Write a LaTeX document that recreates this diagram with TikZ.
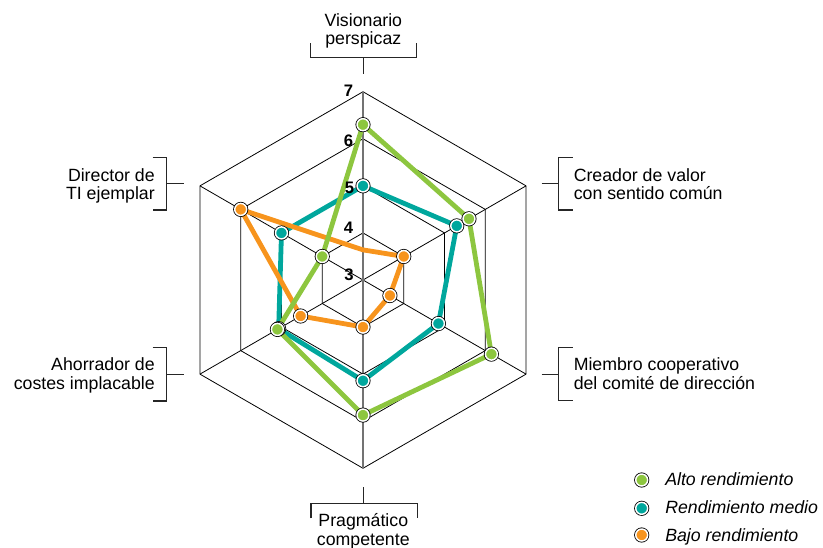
\documentclass[tikz,border=0pt]{standalone}
\usepackage{fontspec}
\setmainfont{Liberation Sans}
\usetikzlibrary{calc}
\definecolor{cgreen}{HTML}{8DC63F}
\definecolor{cteal}{HTML}{00A79D}
\definecolor{corange}{HTML}{F7941D}
\newcommand\radarpt[3]{\coordinate (#1) at ($(C)+(#2:{(#3-3)*35.3pt})$);}
\begin{document}
\begin{tikzpicture}[x=0.75pt,y=-0.75pt,
  ring/.style={draw=black, line width=0.6pt, line join=miter},
  spoke/.style={draw=black, line width=0.6pt},
  vspoke/.style={draw=black!55, line width=0.9pt},
  series/.style={line width=3.6pt, line join=round, draw=#1},
  dot/.style={circle, inner sep=0pt, outer sep=0pt, minimum size=9pt, fill=#1, draw=white, line width=1.1pt, preaction={draw=black, line width=2.3pt}},
  bracket/.style={draw=black!85, line width=0.85pt},
  lab/.style={inner sep=0pt, font=\fontsize{13.3}{13.75}\selectfont},
  num/.style={inner sep=0pt, font=\fontsize{12.5}{13}\selectfont\bfseries},
  leg/.style={inner sep=0pt, anchor=base west, font=\fontsize{13.3}{14}\selectfont\itshape}
]
\useasboundingbox (0,0) rectangle (823,548);
\coordinate (C) at (363,280);

% grid rings
\foreach \rr in {35.3,70.6,105.9,141.2}
  \draw[ring] ($(C)+(90:\rr pt)$) -- ($(C)+(30:\rr pt)$) -- ($(C)+(-30:\rr pt)$)
     -- ($(C)+(-90:\rr pt)$) -- ($(C)+(210:\rr pt)$) -- ($(C)+(150:\rr pt)$) -- cycle;
% spokes
\foreach \a in {30,-30,150,210}
  \draw[spoke] (C) -- ($(C)+(\a:141.2pt)$);
\coordinate (vtop) at ($(C)+(90:141.2pt)$);
\coordinate (vbot) at ($(C)+(-90:141.2pt)$);
\draw[vspoke] (vtop) -- (vbot);

% data points
\radarpt{g1}{90}{6.3}  \radarpt{g2}{30}{5.6}  \radarpt{g3}{-30}{6.15}
\radarpt{g4}{-90}{5.87} \radarpt{g5}{210}{5.1} \radarpt{g6}{150}{4.0}
\radarpt{t1}{90}{5.0}  \radarpt{t2}{30}{5.3}  \radarpt{t3}{-30}{4.85}
\radarpt{t4}{-90}{5.14} \radarpt{t5}{210}{5.07} \radarpt{t6}{150}{5.0}
\radarpt{o1}{90}{3.64} \radarpt{o2}{30}{4.0}  \radarpt{o3}{-30}{3.66}
\radarpt{o4}{-90}{4.0} \radarpt{o5}{210}{4.53} \radarpt{o6}{150}{6.0}

% series lines
\draw[series=cteal] (t1) -- (t2) -- (t3) -- (t4) -- (t5) -- (t6) -- cycle;
\draw[series=corange] (o1) -- (o2) -- (o3) -- (o4) -- (o5) -- (o6) -- cycle;
\draw[series=cgreen] (g1) -- (g2) -- (g3) -- (g4) -- (g5) -- (g6) -- cycle;

% dots
\foreach \p in {t1,t2,t3,t4,t5,t6} \node[dot=cteal] (d\p) at (\p) {};
\foreach \p in {o2,o3,o4,o5,o6} \node[dot=corange] (d\p) at (\p) {};
\foreach \p in {g1,g2,g3,g4,g5,g6} \node[dot=cgreen] (d\p) at (\p) {};

% scale numbers
\node[num] (n7) at (348.5,91) {7};
\node[num] (n6) at (348.5,141) {6};
\node[num] (n5) at (349.5,187.5) {5};
\node[num] (n4) at (348.5,228) {4};
\node[num] (n3) at (349,274.5) {3};

% brackets
\draw[bracket] (310.7,43.3) -- (310.7,57.3) -- (416.7,57.3) -- (416.7,43.3);
\draw[bracket] (363.3,57.3) -- (363.3,74);
\draw[bracket] (311,518.3) -- (311,503.3) -- (417.3,503.3) -- (417.3,518.3);
\draw[bracket] (363.3,503.3) -- (363.3,487.3);
\draw[bracket] (572.7,157.3) -- (558.3,157.3) -- (558.3,210) -- (572.7,210);
\draw[bracket] (541.7,183.5) -- (558.3,183.5);
\draw[bracket] (572.7,347.7) -- (558.3,347.7) -- (558.3,400.7) -- (572.7,400.7);
\draw[bracket] (541.7,374.3) -- (558.3,374.3);
\draw[bracket] (152.7,157.3) -- (166.7,157.3) -- (166.7,210) -- (152.7,210);
\draw[bracket] (166.7,183.5) -- (184,183.5);
\draw[bracket] (152.7,347.7) -- (166.7,347.7) -- (166.7,401) -- (152.7,401);
\draw[bracket] (166.7,374.3) -- (184,374.3);

% axis labels (anchor base = baseline of last line)
\node[lab, anchor=base, align=center] (lv) at (363.3,45) {Visionario\\perspicaz};
\node[lab, anchor=base west, align=left] (lc) at (573.5,200) {Creador de valor\\con sentido común};
\node[lab, anchor=base west, align=left] (lm) at (573.5,389) {Miembro cooperativo\\del comité de dirección};
\node[lab, anchor=base, align=center] (lp) at (363.3,545) {Pragmático\\competente};
\node[lab, anchor=base east, align=right] (la) at (155,389) {Ahorrador de\\costes implacable};
\node[lab, anchor=base east, align=right] (ld) at (155,200) {Director de\\TI ejemplar};

% legend
\node[dot=cgreen] (k1) at (641.7,480) {};
\node[dot=cteal] (k2) at (641.7,508.3) {};
\node[dot=corange] (k3) at (641.7,535) {};
\node[leg] (kl1) at (665,485.5) {Alto rendimiento};
\node[leg] (kl2) at (665,513.3) {Rendimiento medio};
\node[leg] (kl3) at (665,541) {Bajo rendimiento};
\end{tikzpicture}
\end{document}
